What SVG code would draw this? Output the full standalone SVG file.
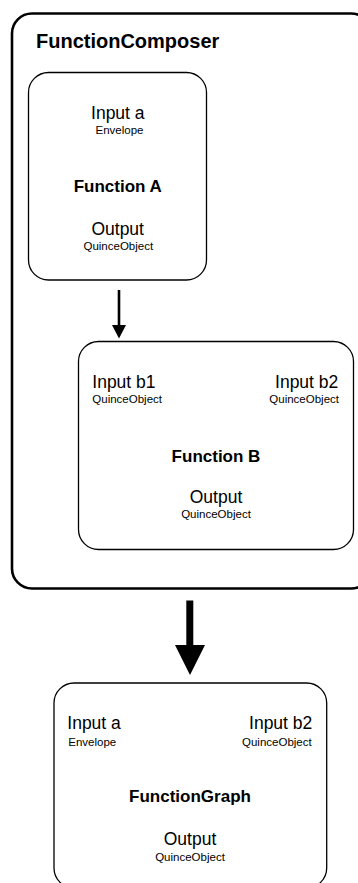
<svg xmlns="http://www.w3.org/2000/svg" width="358" height="883" viewBox="0 0 358 883">
<style>
text { font-family: "Liberation Sans", Arial, Helvetica, sans-serif; fill: #000; }
.title { font-size: 20px; font-weight: bold; }
.name { font-size: 17px; font-weight: bold; }
.port { font-size: 17.5px; }
.type { font-size: 11.5px; }
.mid { text-anchor: middle; }
.end { text-anchor: end; }
.box { fill: #fff; stroke: #000; stroke-width: 1.3; }
.outer { fill: #fff; stroke: #000; stroke-width: 2.6; }
</style>
<rect width="358" height="883" fill="#fff"/>
<g id="FunctionComposer">
  <rect class="outer" x="12" y="13.5" width="359" height="575" rx="20"/>
  <text class="title" x="36" y="48">FunctionComposer</text>
</g>
<g id="FunctionA">
  <rect class="box" x="28.5" y="72.5" width="178" height="207.5" rx="20"/>
  <text class="port mid" x="117.8" y="119">Input a</text>
  <text class="type mid" x="119.5" y="134.3">Envelope</text>
  <text class="name mid" x="117.8" y="191.7">Function A</text>
  <text class="port mid" x="117.7" y="235">Output</text>
  <text class="type mid" x="118.3" y="250">QuinceObject</text>
</g>
<g id="FunctionB">
  <rect class="box" x="78.5" y="341.5" width="275" height="208" rx="20"/>
  <text class="port" x="92.3" y="387.7">Input b1</text>
  <text class="type" x="92.3" y="403.3">QuinceObject</text>
  <text class="port end" x="338.3" y="387.7">Input b2</text>
  <text class="type end" x="339" y="403.3">QuinceObject</text>
  <text class="name mid" x="216" y="461.7">Function B</text>
  <text class="port mid" x="216" y="502.7">Output</text>
  <text class="type mid" x="216" y="518.3">QuinceObject</text>
</g>
<g id="FunctionGraph">
  <rect class="box" x="54" y="683" width="272.7" height="205" rx="20"/>
  <text class="port" x="67.3" y="729.3">Input a</text>
  <text class="type" x="68.3" y="745.7">Envelope</text>
  <text class="port end" x="312.3" y="729.3">Input b2</text>
  <text class="type end" x="311.7" y="745.7">QuinceObject</text>
  <text class="name mid" x="190" y="802.3">FunctionGraph</text>
  <text class="port mid" x="190" y="845">Output</text>
  <text class="type mid" x="190" y="861">QuinceObject</text>
</g>
<g id="connectors">
  <line x1="119" y1="290" x2="119" y2="326" stroke="#000" stroke-width="2.6"/>
  <polygon points="112,325 126,325 119,338.5" fill="#000"/>
  <line x1="189.8" y1="600.5" x2="189.8" y2="646" stroke="#000" stroke-width="7"/>
  <polygon points="175,645 205,645 190,675" fill="#000"/>
</g>
</svg>
